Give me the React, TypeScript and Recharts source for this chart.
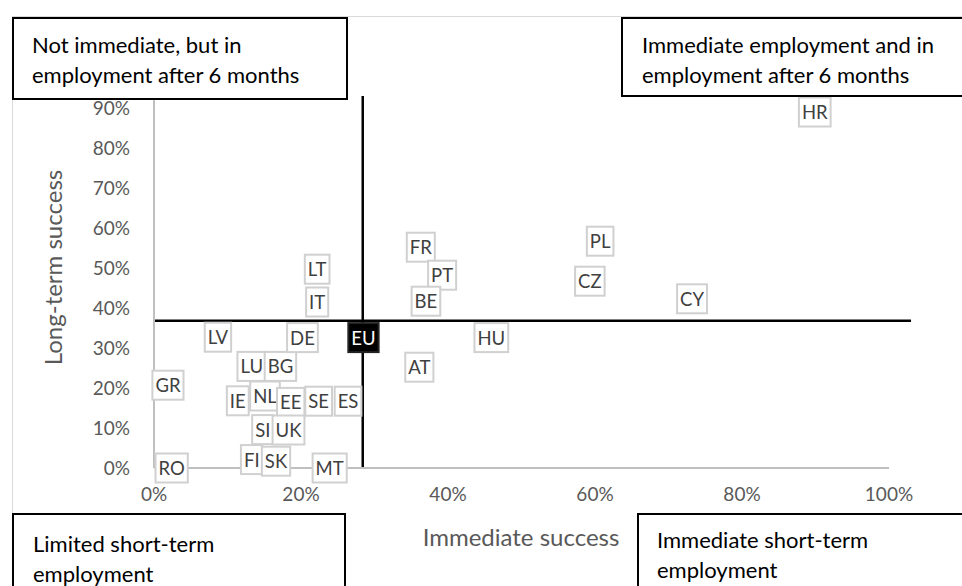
import React from "react";
import { ScatterChart, Scatter, XAxis, YAxis, ReferenceLine } from "recharts";

// country codes and the two success rates (share of graduates)
const codes = ["GR", "RO", "LV", "LU", "BG", "IE", "NL", "EE", "SE", "ES", "SI", "UK", "FI", "SK", "MT", "DE", "LT", "IT", "FR", "PT", "BE", "AT", "HU", "CZ", "PL", "CY", "HR", "EU"];
const immediate = [0.019, 0.024, 0.087, 0.133, 0.172, 0.114, 0.151, 0.186, 0.224, 0.264, 0.148, 0.183, 0.133, 0.166, 0.239, 0.202, 0.222, 0.222, 0.363, 0.392, 0.37, 0.361, 0.459, 0.593, 0.607, 0.732, 0.899, 0.285];
const longTerm = [0.207, 0.0, 0.327, 0.254, 0.254, 0.168, 0.18, 0.164, 0.167, 0.167, 0.096, 0.095, 0.021, 0.017, 0.0, 0.326, 0.497, 0.415, 0.552, 0.482, 0.417, 0.252, 0.326, 0.467, 0.567, 0.423, 0.89, 0.326];

const xTicks = [0, 0.2, 0.4, 0.6, 0.8, 1];
const yTicks = [0, 0.1, 0.2, 0.3, 0.4, 0.5, 0.6, 0.7, 0.8, 0.9];

// EU averages used as the quadrant split
const euImmediate = 0.284;
const euLongTerm = 0.368;

const data = codes.map((code, i) => ({ code, x: immediate[i], y: longTerm[i] }));

const FONT = "Lato, 'Open Sans', sans-serif";
const LABEL_SIZE = 18.5;

let ctx: CanvasRenderingContext2D | null = null;
function textWidth(t: string) {
  if (!ctx) ctx = document.createElement("canvas").getContext("2d");
  if (!ctx) return t.length * 11;
  ctx.font = `${LABEL_SIZE}px Lato`;
  return ctx.measureText(t).width;
}

const pct = (v: number) => `${Math.round(v * 100)}%`;

function CountryBox(props: any) {
  const { cx, cy, payload } = props;
  const isEU = payload.code === "EU";
  const w = textWidth(payload.code) + 6;
  const h = 29;
  return (
    <g>
      <rect
        x={cx - w / 2}
        y={cy - h / 2}
        width={w}
        height={h}
        fill={isEU ? "#000" : "#fff"}
        stroke={isEU ? "#222" : "#d0d0d0"}
        strokeWidth={2}
      />
      <text
        x={cx}
        y={cy}
        textAnchor="middle"
        dominantBaseline="central"
        fontFamily={FONT}
        fontSize={LABEL_SIZE}
        fill={isEU ? "#fff" : "#404040"}
      >
        {payload.code}
      </text>
    </g>
  );
}

const boxStyle: React.CSSProperties = {
  position: "absolute",
  border: "2px solid #000",
  background: "#fff",
  fontFamily: FONT,
  fontSize: 22,
  lineHeight: "30px",
  color: "#000",
  boxSizing: "border-box",
  whiteSpace: "nowrap",
};

export default function App() {
  return (
    <div style={{ position: "absolute", left: 0, top: 0, width: 962, height: 586, background: "#fff", overflow: "hidden" }}>
      <div style={{ position: "absolute", left: 12, top: 16, width: 1000, height: 700, borderLeft: "1px solid #d9d9d9", borderTop: "1px solid #d9d9d9" }} />
      <ScatterChart width={962} height={586} margin={{ top: 96, right: 73, bottom: 78, left: 74 }} style={{ position: "absolute", left: 0, top: 0 }}>
        <XAxis
          type="number"
          dataKey="x"
          domain={[0, 1]}
          ticks={xTicks}
          tickFormatter={pct}
          height={40}
          tickLine={false}
          tickSize={0}
          tickMargin={20}
          axisLine={{ stroke: "#bfbfbf", strokeWidth: 2 }}
          tick={{ fill: "#595959", fontSize: 19, fontFamily: FONT }}
        />
        <YAxis
          type="number"
          dataKey="y"
          domain={[0, 0.93]}
          ticks={yTicks}
          tickFormatter={pct}
          width={80}
          tickLine={false}
          tickSize={0}
          tickMargin={24}
          axisLine={{ stroke: "#bfbfbf", strokeWidth: 2 }}
          tick={{ fill: "#595959", fontSize: 19, fontFamily: FONT }}
        />
        <ReferenceLine x={euImmediate} stroke="#000" strokeWidth={2.5} />
        <ReferenceLine
          segment={[{ x: 0, y: euLongTerm }, { x: 1.03, y: euLongTerm }]}
          stroke="#000"
          strokeWidth={2.5}
          ifOverflow="visible"
        />
        <Scatter data={data} shape={CountryBox} isAnimationActive={false} />
      </ScatterChart>

      <div style={{ position: "absolute", left: 0, top: 0, width: 106, height: 534, display: "flex", alignItems: "center", justifyContent: "center" }}>
        <div style={{ transform: "rotate(-90deg)", whiteSpace: "nowrap", fontFamily: FONT, fontSize: 24, color: "#595959" }}>Long-term success</div>
      </div>
      <div style={{ position: "absolute", left: 400, top: 522, width: 242, textAlign: "center", whiteSpace: "nowrap", fontFamily: FONT, fontSize: 24, color: "#595959" }}>
        Immediate success
      </div>

      <div style={{ ...boxStyle, left: 12, top: 17, width: 336, height: 83, padding: "11px 0 0 18px" }}>
        Not immediate, but in
        <br />
        employment after 6 months
      </div>
      <div style={{ ...boxStyle, left: 621, top: 17, width: 360, height: 80, padding: "11px 0 0 19px" }}>
        Immediate employment and in
        <br />
        employment after 6 months
      </div>
      <div style={{ ...boxStyle, left: 12, top: 513, width: 334, height: 90, padding: "14px 0 0 19px" }}>
        Limited short-term
        <br />
        employment
      </div>
      <div style={{ ...boxStyle, left: 637, top: 513, width: 360, height: 90, padding: "10px 0 0 18px" }}>
        Immediate short-term
        <br />
        employment
      </div>
    </div>
  );
}
